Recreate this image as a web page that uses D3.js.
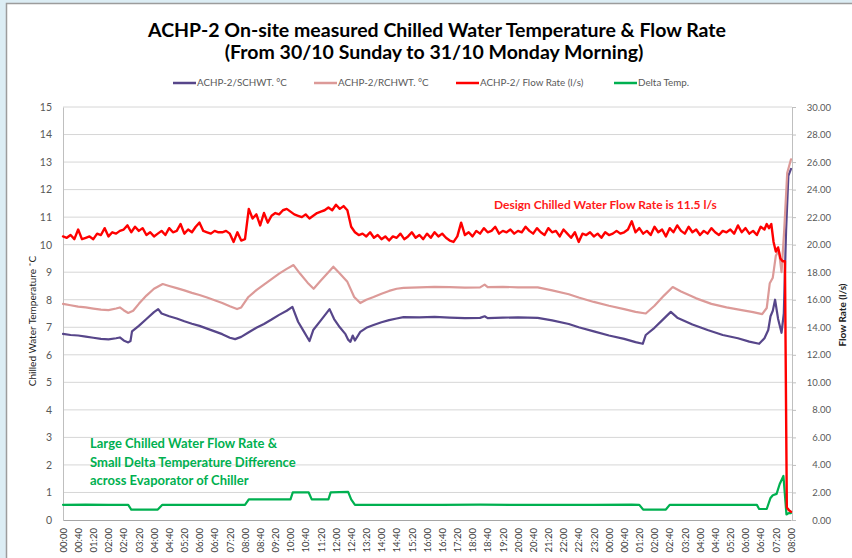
<!DOCTYPE html>
<html>
<head>
<meta charset="utf-8">
<script src="https://cdn.jsdelivr.net/npm/d3@7"></script>
<style>
  html, body { margin: 0; padding: 0; background: #dcedf4; }
  svg { display: block; }
  text { font-family: Lato, "Open Sans", sans-serif; }
</style>
</head>
<body>
<svg id="chart" width="852" height="558"></svg>
<script>
// D3 v7
// minutes since 00:00 on 30/10, value
const schwt = [[0,6.76],[20,6.72],[40,6.70],[60,6.66],[80,6.62],[100,6.58],[120,6.56],[140,6.60],[150,6.63],[160,6.52],[172,6.45],[178,6.50],[182,6.85],[200,7.05],[220,7.30],[240,7.55],[251,7.66],[260,7.50],[280,7.40],[300,7.32],[320,7.22],[340,7.13],[360,7.05],[380,6.95],[400,6.85],[420,6.75],[440,6.62],[454,6.57],[470,6.65],[490,6.82],[510,6.98],[530,7.12],[550,7.28],[570,7.45],[590,7.60],[605,7.74],[620,7.20],[635,6.85],[650,6.50],[660,6.90],[680,7.25],[703,7.66],[715,7.30],[730,7.00],[745,6.75],[752,6.55],[758,6.47],[764,6.70],[770,6.52],[784,6.83],[800,6.98],[819,7.08],[840,7.18],[860,7.26],[880,7.32],[898,7.37],[940,7.36],[980,7.38],[1020,7.35],[1060,7.33],[1100,7.34],[1112,7.40],[1120,7.33],[1160,7.35],[1200,7.36],[1252,7.34],[1290,7.25],[1334,7.12],[1360,7.00],[1400,6.85],[1440,6.70],[1480,6.58],[1510,6.46],[1529,6.40],[1537,6.72],[1560,6.98],[1580,7.25],[1603,7.56],[1620,7.35],[1660,7.10],[1700,6.90],[1740,6.72],[1780,6.60],[1810,6.48],[1836,6.40],[1850,6.60],[1860,6.90],[1866,7.40],[1872,7.60],[1878,8.00],[1886,7.30],[1895,6.80],[1901,7.50],[1907,10.5],[1913,12.5],[1920,12.75]];

const rchwt = [[0,7.85],[20,7.80],[40,7.75],[60,7.72],[80,7.68],[100,7.64],[120,7.62],[140,7.68],[150,7.72],[160,7.62],[172,7.52],[185,7.60],[200,7.85],[220,8.15],[240,8.40],[263,8.57],[280,8.50],[300,8.42],[320,8.34],[340,8.25],[360,8.17],[380,8.08],[400,7.98],[420,7.88],[440,7.76],[459,7.66],[470,7.72],[489,8.10],[510,8.35],[530,8.55],[550,8.75],[570,8.95],[590,9.12],[608,9.26],[625,8.95],[645,8.62],[661,8.40],[680,8.70],[700,9.00],[713,9.20],[730,8.95],[750,8.65],[768,8.10],[784,7.88],[800,8.00],[819,8.10],[840,8.22],[860,8.32],[880,8.40],[898,8.43],[940,8.45],[980,8.47],[1020,8.46],[1060,8.44],[1100,8.45],[1112,8.55],[1120,8.46],[1160,8.47],[1200,8.45],[1252,8.45],[1290,8.34],[1334,8.20],[1360,8.08],[1400,7.92],[1440,7.78],[1480,7.66],[1510,7.56],[1537,7.50],[1560,7.78],[1585,8.15],[1608,8.46],[1630,8.30],[1670,8.05],[1710,7.85],[1750,7.72],[1790,7.62],[1820,7.55],[1844,7.48],[1856,7.70],[1864,8.60],[1872,8.80],[1880,9.60],[1888,9.80],[1895,9.00],[1902,10.5],[1910,12.6],[1920,13.1]];

// flow rate (l/s), one reading every 10 minutes from 00:00 to 06:50 next day
const flowRate = [
  20.6,20.5,20.7,20.4,21.1,20.4,20.5,20.6,20.4,20.8,
  20.7,21.2,20.6,20.9,20.8,21.0,21.1,21.4,20.9,21.3,
  21.0,21.2,20.7,20.9,20.6,20.8,21.0,20.7,21.2,20.9,
  21.0,21.5,20.8,21.1,20.9,21.3,21.6,21.0,20.9,20.8,
  21.0,20.9,20.9,21.0,20.8,20.2,20.9,20.3,20.4,
  22.6,21.9,22.2,21.4,22.3,21.6,22.1,22.3,22.2,22.5,
  22.6,22.4,22.2,22.1,22.0,22.2,21.9,22.1,22.3,22.4,
  22.5,22.7,22.5,22.9,22.6,22.8,22.5,21.3,
  20.9,20.7,20.8,20.6,20.9,20.5,20.7,20.4,20.6,20.3,
  20.6,20.5,20.8,20.4,20.6,20.9,20.5,20.7,20.4,20.8,
  20.5,20.9,20.6,20.8,20.5,20.3,20.2,20.6,21.6,20.7,
  20.9,20.6,21.0,20.8,21.2,20.9,21.0,21.3,20.8,21.0,
  20.9,21.1,20.8,21.0,20.9,21.3,21.0,20.8,21.2,20.9,
  20.7,21.2,20.9,21.0,20.6,21.1,20.8,20.5,20.9,20.2,
  20.8,20.7,20.9,20.6,20.8,20.5,20.9,20.7,20.8,21.0,
  20.8,20.9,21.1,21.7,20.9,21.2,20.8,21.0,20.7,21.3,
  20.9,21.1,20.6,21.2,20.9,21.4,21.0,20.8,21.3,20.9,
  21.1,20.7,21.0,20.8,21.2,20.9,20.7,21.0,20.9,21.1,
  20.8,21.4,20.9,21.2,20.8,21.0,20.7,21.3,21.1
];
const flowRateTail = [[1856,21.5],[1862,21.2],[1868,21.5],[1874,20.2],[1880,19.5],[1886,19.8],[1892,19.0],[1898,18.8],[1904,18.8],[1909,0.9],[1915,0.7],[1920,0.6]];

const deltaTemp = [[0,0.55],[60,0.56],[120,0.55],[172,0.55],[180,0.38],[250,0.38],[262,0.55],[480,0.55],[490,0.75],[600,0.75],[606,1.0],[648,1.0],[656,0.75],[700,0.75],[706,1.0],[752,1.02],[760,0.75],[770,0.55],[900,0.55],[1000,0.55],[1100,0.56],[1200,0.55],[1300,0.55],[1400,0.55],[1500,0.56],[1520,0.55],[1530,0.38],[1590,0.38],[1600,0.55],[1700,0.55],[1830,0.55],[1836,0.40],[1856,0.40],[1866,0.80],[1872,0.90],[1882,0.95],[1890,1.30],[1900,1.60],[1908,0.20],[1914,0.25],[1920,0.25]];

const timeLabels = ['00:00','00:40','01:20','02:00','02:40','03:20','04:00','04:40','05:20','06:00','06:40','07:20',
  '08:00','08:40','09:20','10:00','10:40','11:20','12:00','12:40','13:20','14:00','14:40','15:20',
  '16:00','16:40','17:20','18:00','18:40','19:20','20:00','20:40','21:20','22:00','22:40','23:20',
  '00:00','00:40','01:20','02:00','02:40','03:20','04:00','04:40','05:20','06:00','06:40','07:20','08:00'];

const legendItems = [
  {name: 'ACHP-2/SCHWT. °C', color: '#57468a'},
  {name: 'ACHP-2/RCHWT. °C', color: '#dc9a98'},
  {name: 'ACHP-2/ Flow Rate (l/s)', color: '#ff0000'},
  {name: 'Delta Temp.', color: '#00b050'}
];

const svg = d3.select('#chart');

// panel
svg.append('rect').attr('x', 6.5).attr('y', 3.5).attr('width', 900).attr('height', 600)
  .attr('fill', '#fff').attr('stroke', '#9c9c9c').attr('stroke-width', 1.5);

const x = d3.scaleLinear().domain([0, 1920]).range([63, 791]);
const yL = d3.scaleLinear().domain([0, 15]).range([520, 107]);
const yR = d3.scaleLinear().domain([0, 30]).range([520, 107]);

// gridlines
svg.append('g').selectAll('line').data(d3.range(1, 16)).join('line')
  .attr('x1', 63).attr('x2', 792)
  .attr('y1', d => yL(d)).attr('y2', d => yL(d))
  .attr('stroke', '#d6d6d6').attr('stroke-width', 1);

// axes
const gL = svg.append('g').attr('transform', 'translate(63,0)')
  .call(d3.axisLeft(yL).tickValues(d3.range(0, 16)).tickSize(0).tickPadding(11));
gL.select('.domain').attr('stroke', '#bfbfbf');
gL.selectAll('text').attr('font-family', 'Lato').attr('font-size', 10.5).attr('fill', '#595959');

const gR = svg.append('g').attr('transform', 'translate(792,0)')
  .call(d3.axisRight(yR).tickValues(d3.range(0, 31, 2)).tickFormat(d3.format('.2f')).tickSize(4));
gR.select('.domain').attr('stroke', '#bfbfbf');
gR.selectAll('line').attr('stroke', '#bfbfbf');
gR.selectAll('text').attr('font-family', '"DejaVu Serif"').attr('font-size', 9.5).attr('fill', '#595959')
  .attr('text-anchor', 'end').attr('x', 39);

const gB = svg.append('g').attr('transform', 'translate(0,520)')
  .call(d3.axisBottom(x).tickValues(d3.range(0, 1921, 40)).tickFormat((d, i) => timeLabels[i]).tickSize(0));
gB.select('.domain').attr('stroke', '#a6a6a6');
gB.selectAll('text')
  .attr('font-family', '"DejaVu Serif"').attr('font-size', 9.5).attr('fill', '#404040')
  .attr('transform', 'rotate(-90)').attr('text-anchor', 'end')
  .attr('x', -8).attr('y', 0).attr('dy', '0.35em');

// series
const lineL = d3.line().x(d => x(d[0])).y(d => yL(d[1]));
const lineR = d3.line().x(d => x(d[0])).y(d => yR(d[1]));
const flowData = flowRate.map((v, i) => [i * 10, v]).concat(flowRateTail);

const plot = svg.append('g').attr('fill', 'none').attr('stroke-linejoin', 'round').attr('stroke-linecap', 'round');
plot.append('path').datum(schwt).attr('d', lineL).attr('stroke', legendItems[0].color).attr('stroke-width', 2.2);
plot.append('path').datum(rchwt).attr('d', lineL).attr('stroke', legendItems[1].color).attr('stroke-width', 2.2);
plot.append('path').datum(deltaTemp).attr('d', lineL).attr('stroke', legendItems[3].color).attr('stroke-width', 2.2);
plot.append('path').datum(flowData).attr('d', lineR).attr('stroke', legendItems[2].color).attr('stroke-width', 2.4);

// title
svg.append('text').attr('x', 437).attr('y', 37).attr('text-anchor', 'middle')
  .attr('font-size', 19.5).attr('font-weight', 'bold').attr('fill', '#000')
  .text('ACHP-2 On-site measured Chilled Water Temperature & Flow Rate');
svg.append('text').attr('x', 434).attr('y', 59).attr('text-anchor', 'middle')
  .attr('font-size', 19.5).attr('font-weight', 'bold').attr('fill', '#000')
  .text('(From 30/10 Sunday to 31/10 Monday Morning)');

// legend
const legX = [173, 314, 456, 614];
const leg = svg.append('g').selectAll('g').data(legendItems).join('g')
  .attr('transform', (d, i) => `translate(${legX[i]},83)`);
leg.append('line').attr('x1', 0).attr('x2', 23).attr('stroke', d => d.color).attr('stroke-width', 2.5);
leg.append('text').attr('x', 24).attr('dy', '0.35em').attr('font-size', 9.8).attr('fill', '#595959').text(d => d.name);

// axis titles
svg.append('text').attr('transform', 'translate(36,321) rotate(-90)').attr('text-anchor', 'middle')
  .attr('font-size', 10).attr('fill', '#222').text('Chilled Water Temperature ˚C');
svg.append('text').attr('transform', 'translate(846,315) rotate(-90)').attr('text-anchor', 'middle')
  .attr('font-size', 10).attr('font-weight', 'bold').attr('fill', '#222').text('Flow Rate (l/s)');

// annotations
svg.append('text').attr('x', 494).attr('y', 209).attr('font-size', 12).attr('font-weight', 'bold').attr('fill', '#ff1a1a')
  .text('Design Chilled Water Flow Rate is 11.5 l/s');
const notes = ['Large Chilled Water Flow Rate &', 'Small Delta Temperature Difference', 'across Evaporator of Chiller'];
svg.append('g').selectAll('text').data(notes).join('text')
  .attr('x', 90).attr('y', (d, i) => 448 + i * 18.5)
  .attr('font-size', 13).attr('font-weight', 'bold').attr('fill', '#00b050').text(d => d);
</script>
</body>
</html>
